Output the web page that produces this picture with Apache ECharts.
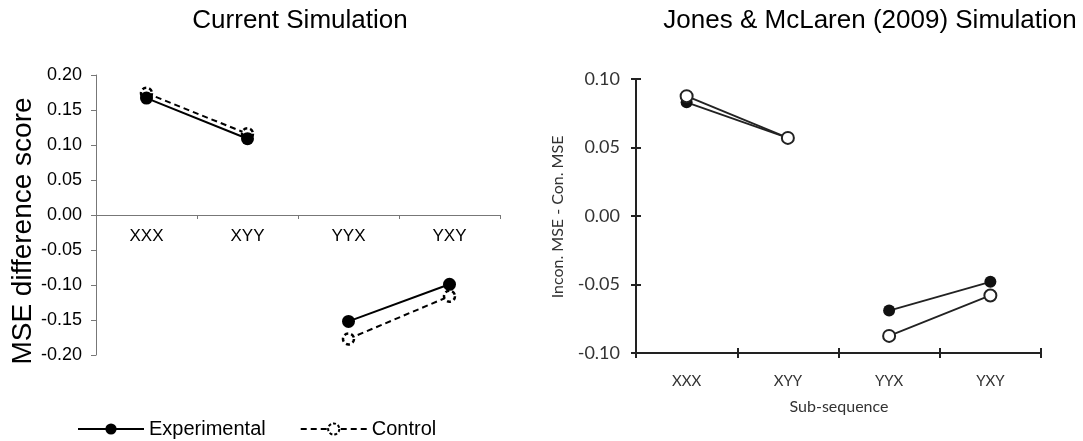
<!DOCTYPE html>
<html>
<head>
<meta charset="utf-8">
<script src="https://cdn.jsdelivr.net/npm/echarts@6/dist/echarts.min.js"></script>
<style>
html,body{margin:0;padding:0;background:#fff;}
#chart{width:1083px;height:441px;}
</style>
</head>
<body>
<div id="chart"></div>
<script>
// ---- data ----
var categories = ['XXX', 'XYY', 'YYX', 'YXY'];
// Current Simulation
var curExperimental = [0.167, 0.109, -0.152, -0.099];
var curControl = [0.174, 0.116, -0.177, -0.116];
// Jones & McLaren (2009) Simulation
var jmExperimental = [0.083, 0.057, -0.069, -0.048];
var jmControl = [0.0875, 0.057, -0.0875, -0.058];
var leftTicks = [-0.2, 0.2, 0.05];
var rightTicks = [-0.1, 0.1, 0.05];

function part(arr, first) {
  return arr.map(function (v, i) { return (first ? i < 2 : i >= 2) ? v : null; });
}

var chart = echarts.init(document.getElementById('chart'), null, {renderer: 'canvas'});
var F = 'Liberation Sans, Arial, Helvetica, sans-serif';
var G = 'Lato, Open Sans, sans-serif';

// left grid geometry
var LG = {left: 96, top: 75, width: 404, height: 280};
var zeroOffset = -LG.height * (0 - leftTicks[0]) / (leftTicks[1] - leftTicks[0]);

var expStyleL = {
  type: 'line', name: 'Experimental', xAxisIndex: 0, yAxisIndex: 0,
  symbol: 'circle', symbolSize: 13, connectNulls: false, z: 4,
  lineStyle: {color: '#000', width: 2, type: 'solid'},
  itemStyle: {color: '#000', borderColor: '#000', borderWidth: 0}
};
var conStyleL = {
  type: 'line', name: 'Control', xAxisIndex: 0, yAxisIndex: 0,
  symbol: 'circle', symbolSize: 11, connectNulls: false, z: 3,
  lineStyle: {color: '#000', width: 2, type: [6, 4]},
  itemStyle: {color: '#fff', borderColor: '#000', borderWidth: 2.5, borderType: [4, 3]}
};
var expStyleR = {
  type: 'line', name: 'JM Experimental', xAxisIndex: 1, yAxisIndex: 1,
  symbol: 'circle', symbolSize: 12, connectNulls: false, z: 3,
  lineStyle: {color: '#222', width: 1.8},
  itemStyle: {color: '#111', borderColor: '#111', borderWidth: 0}
};
var conStyleR = {
  type: 'line', name: 'JM Control', xAxisIndex: 1, yAxisIndex: 1,
  symbol: 'circle', symbolSize: 12, connectNulls: false, z: 4,
  lineStyle: {color: '#222', width: 1.8},
  itemStyle: {color: '#fff', borderColor: '#222', borderWidth: 2}
};
function mk(base, data) { return Object.assign({}, base, {data: data}); }

var option = {
  animation: false,
  backgroundColor: '#fff',
  grid: [
    LG,
    {left: 636, top: 79, width: 405, height: 274},
    {left: 636, top: 349, width: 405, height: 4},
    {left: 636, top: 79, width: 4, height: 274}
  ],
  legend: {
    data: [
      {name: 'Experimental'},
      {name: 'Control', itemStyle: {color: '#fff', borderColor: '#000', borderWidth: 2, borderType: [3, 2]}}
    ],
    left: 72, top: 414, itemWidth: 66, itemHeight: 14, itemGap: 34,
    textStyle: {fontFamily: F, fontSize: 20, color: '#000'}
  },
  xAxis: [
    {
      type: 'category', gridIndex: 0, data: categories, boundaryGap: true,
      position: 'bottom', offset: zeroOffset,
      axisLine: {onZero: false, lineStyle: {color: '#777', width: 1}},
      axisTick: {show: true, length: 4, lineStyle: {color: '#777'}},
      axisLabel: {fontFamily: F, fontSize: 17, color: '#000', margin: 13}
    },
    {
      type: 'category', gridIndex: 1, data: categories, boundaryGap: true,
      axisLine: {onZero: false, lineStyle: {color: '#222', width: 2}},
      axisTick: {show: true, length: 5, lineStyle: {color: '#222', width: 2}},
      axisLabel: {fontFamily: G, fontSize: 15, color: '#333', margin: 21}
    },
    {
      type: 'category', gridIndex: 2, data: categories, boundaryGap: true,
      axisLine: {show: false}, axisLabel: {show: false},
      axisTick: {show: true, inside: true, length: 5, lineStyle: {color: '#222', width: 2}}
    },
    {
      type: 'value', gridIndex: 3, show: false
    }
  ],
  yAxis: [
    {
      type: 'value', gridIndex: 0, min: leftTicks[0], max: leftTicks[1], interval: leftTicks[2],
      axisLine: {show: true, lineStyle: {color: '#777', width: 1}},
      axisTick: {show: true, length: 5, lineStyle: {color: '#777'}},
      splitLine: {show: false},
      axisLabel: {fontFamily: F, fontSize: 18, color: '#000', margin: 14,
        formatter: function (v) { return v.toFixed(2); }}
    },
    {
      type: 'value', gridIndex: 1, min: rightTicks[0], max: rightTicks[1], interval: rightTicks[2],
      axisLine: {show: true, lineStyle: {color: '#222', width: 2}},
      axisTick: {show: true, length: 5, lineStyle: {color: '#222', width: 2}},
      splitLine: {show: false},
      axisLabel: {fontFamily: G, fontSize: 18, color: '#333', margin: 16,
        formatter: function (v) { return v.toFixed(2); }}
    },
    {
      type: 'value', gridIndex: 2, show: false
    },
    {
      type: 'value', gridIndex: 3, min: rightTicks[0], max: rightTicks[1], interval: rightTicks[2],
      axisLine: {show: false}, axisLabel: {show: false}, splitLine: {show: false},
      axisTick: {show: true, inside: true, length: 5, lineStyle: {color: '#222', width: 2}}
    }
  ],
  series: [
    mk(conStyleL, part(curControl, true)),
    mk(conStyleL, part(curControl, false)),
    mk(expStyleL, part(curExperimental, true)),
    mk(expStyleL, part(curExperimental, false)),
    mk(expStyleR, part(jmExperimental, true)),
    mk(expStyleR, part(jmExperimental, false)),
    mk(conStyleR, part(jmControl, true)),
    mk(conStyleR, part(jmControl, false))
  ],
  graphic: [
    {type: 'text', x: 300, y: 21, style: {text: 'Current Simulation', font: '26px ' + F, fill: '#000', textAlign: 'center', textVerticalAlign: 'middle'}},
    {type: 'text', x: 870, y: 21, style: {text: 'Jones & McLaren (2009) Simulation', font: '26px ' + F, fill: '#000', textAlign: 'center', textVerticalAlign: 'middle'}},
    {type: 'text', x: 23, y: 231, rotation: Math.PI / 2, style: {text: 'MSE difference score', font: '28px ' + F, fill: '#000', textAlign: 'center', textVerticalAlign: 'middle'}},
    {type: 'text', x: 558, y: 217, rotation: Math.PI / 2, style: {text: 'Incon. MSE - Con. MSE', font: '16px ' + G, fill: '#333', textAlign: 'center', textVerticalAlign: 'middle'}},
    {type: 'text', x: 839, y: 407, style: {text: 'Sub-sequence', font: '16px ' + G, fill: '#333', textAlign: 'center', textVerticalAlign: 'middle'}}
  ]
};
chart.setOption(option);
</script>
</body>
</html>
